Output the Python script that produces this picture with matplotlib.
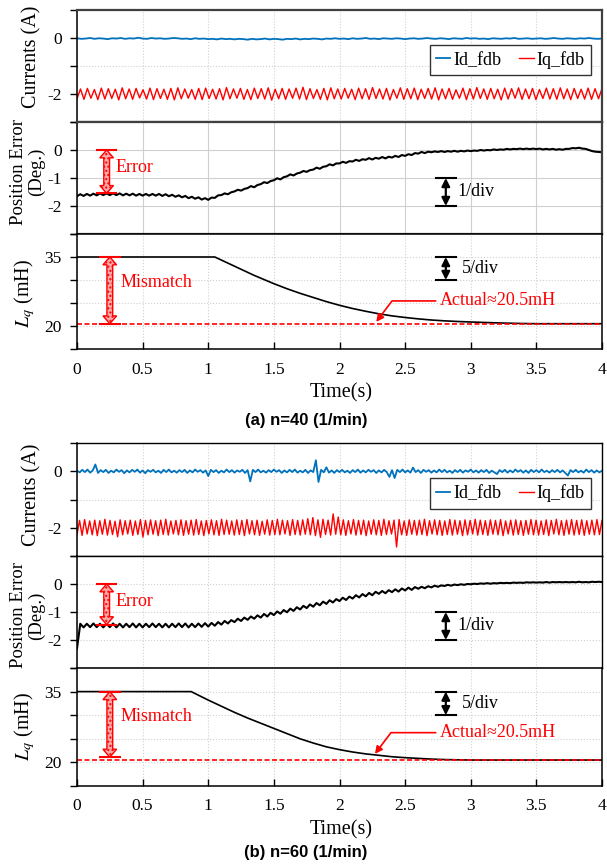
import numpy as np
import matplotlib.pyplot as plt
import matplotlib.patches as mpatches

plt.rcParams['font.family'] = ['Liberation Serif', 'DejaVu Serif']
plt.rcParams['mathtext.fontset'] = 'stix'

# ***** Data ***** #

time_ticks = [0, 0.5, 1, 1.5, 2, 2.5, 3, 3.5, 4]
time_labels = ['0', '0.5', '1', '1.5', '2', '2.5', '3', '3.5', '4']
lq_actual = 20.5

# (a) n=40 -- Iq ripple read as successive peaks / troughs
iq_a_peaks = [-1.82, -1.80, -1.84, -1.79, -1.81, -1.83, -1.78, -1.82, -1.80, -1.85,
              -1.79, -1.81, -1.83, -1.80, -1.78, -1.82, -1.84, -1.80, -1.79, -1.83,
              -1.81, -1.77, -1.82, -1.80, -1.84, -1.79, -1.81, -1.78, -1.83, -1.80,
              -1.82, -1.79, -1.76, -1.81, -1.84, -1.80, -1.78, -1.82, -1.80, -1.83,
              -1.79, -1.81, -1.77, -1.82, -1.80, -1.84, -1.78, -1.81, -1.79, -1.83,
              -1.80, -1.78, -1.82, -1.80, -1.85, -1.79, -1.81, -1.77, -1.82, -1.80,
              -1.83, -1.79, -1.81, -1.78, -1.82, -1.80, -1.84, -1.79, -1.81, -1.78,
              -1.82, -1.80, -1.83, -1.79, -1.81, -1.80]
iq_a_troughs = [-2.17, -2.19, -2.15, -2.20, -2.18, -2.16, -2.21, -2.17, -2.19, -2.14,
                -2.18, -2.20, -2.16, -2.19, -2.21, -2.17, -2.15, -2.19, -2.20, -2.16,
                -2.18, -2.21, -2.17, -2.15, -2.19, -2.20, -2.16, -2.18, -2.22, -2.17,
                -2.19, -2.15, -2.18, -2.20, -2.16, -2.19, -2.21, -2.17, -2.18, -2.15,
                -2.20, -2.17, -2.19, -2.16, -2.18, -2.21, -2.15, -2.19, -2.17, -2.20,
                -2.16, -2.18, -2.21, -2.17, -2.19, -2.15, -2.20, -2.18, -2.16, -2.19,
                -2.17, -2.21, -2.18, -2.15, -2.19, -2.17, -2.20, -2.16, -2.18, -2.19,
                -2.17, -2.20, -2.16, -2.18, -2.19, -2.17]
id_a = [-0.01, -0.03, -0.02, 0.00, -0.03, -0.01, -0.02, -0.04, -0.01, -0.02, 0.00, -0.03,
        -0.01, -0.02, 0.01, -0.02, -0.03, 0.00, -0.02, -0.01, -0.03, -0.02, 0.00, -0.01,
        -0.03, -0.02, -0.04, -0.01, -0.03, -0.02, -0.04, -0.03, -0.05, -0.02, -0.04, -0.03,
        -0.05, -0.03, -0.04, -0.06, -0.03, -0.05, -0.04, -0.02, -0.05, -0.03, -0.04, -0.06,
        -0.03, -0.04, -0.02, -0.05, -0.03, -0.04, -0.02, -0.03, -0.05, -0.02, -0.03, -0.01,
        -0.03, -0.02, -0.04, -0.01, -0.03, -0.02, 0.00, -0.03, -0.02, -0.04, -0.01, -0.02,
        -0.03, -0.01, -0.02, -0.04, -0.02, -0.01, -0.03, -0.02, 0.00, -0.02, -0.03, -0.01,
        -0.02, -0.04, -0.01, -0.02, -0.03, 0.00, -0.02, -0.01, -0.03, -0.02, -0.04, -0.01,
        -0.02, -0.03, -0.01, -0.02, 0.00, -0.03, -0.02, -0.01, -0.03, -0.02, -0.01, -0.03,
        -0.02, 0.00, -0.02, -0.03, -0.01, -0.02, -0.03, -0.01, -0.02, 0.00, -0.02, -0.03,
        -0.02]
pe_a = [-1.65, -1.58, -1.64, -1.57, -1.63, -1.56, -1.62, -1.55, -1.61, -1.55, -1.61, -1.55,
        -1.61, -1.55, -1.62, -1.56, -1.62, -1.56, -1.63, -1.57, -1.63, -1.57, -1.63, -1.57,
        -1.63, -1.57, -1.64, -1.58, -1.65, -1.60, -1.67, -1.62, -1.69, -1.64, -1.72, -1.67,
        -1.74, -1.69, -1.77, -1.72, -1.78, -1.70, -1.71, -1.62, -1.61, -1.55, -1.58, -1.51,
        -1.48, -1.42, -1.45, -1.39, -1.36, -1.29, -1.33, -1.25, -1.22, -1.15, -1.18, -1.11,
        -1.08, -1.01, -1.05, -0.97, -0.94, -0.87, -0.91, -0.84, -0.81, -0.75, -0.78, -0.72,
        -0.70, -0.63, -0.67, -0.60, -0.58, -0.51, -0.55, -0.48, -0.48, -0.42, -0.46, -0.40,
        -0.41, -0.35, -0.39, -0.33, -0.35, -0.29, -0.34, -0.28, -0.31, -0.25, -0.30, -0.24,
        -0.27, -0.21, -0.25, -0.18, -0.21, -0.15, -0.18, -0.11, -0.13, -0.07, -0.11, -0.06,
        -0.08, -0.05, -0.07, -0.04, -0.07, -0.04, -0.06, -0.03, -0.06, -0.03, -0.05, -0.02,
        -0.04, -0.02, -0.03, 0.00, -0.02, 0.00, -0.01, 0.02, 0.00, 0.02, 0.01, 0.04,
        0.02, 0.04, 0.03, 0.05, 0.03, 0.05, 0.03, 0.05, 0.03, 0.05, 0.02, 0.04,
        0.02, 0.04, 0.01, 0.03, 0.01, 0.04, 0.04, 0.07, 0.06, 0.08, 0.05, 0.04,
        0.00, -0.04, -0.06, -0.07, -0.08]
lq_a_t = [0, 1.05, 1.2, 1.35, 1.5, 1.6, 1.7, 1.8, 1.9, 2.0, 2.1, 2.2, 2.3, 2.4, 2.5,
          2.6, 2.7, 2.8, 2.9, 3.0, 3.1, 3.2, 3.3, 3.4, 3.5, 4.0]
lq_a = [35, 35, 33.0, 31.0, 29.2, 28.1, 27.1, 26.2, 25.3, 24.5, 23.8, 23.2, 22.65, 22.2,
        21.85, 21.55, 21.3, 21.12, 20.98, 20.87, 20.77, 20.68, 20.6, 20.54, 20.5, 20.5]

# (b) n=60
iq_b_peaks = [-1.74, -1.71, -1.76, -1.73, -1.75, -1.70, -1.74, -1.77, -1.72, -1.75,
              -1.73, -1.76, -1.71, -1.74, -1.72, -1.75, -1.73, -1.70, -1.76, -1.74,
              -1.72, -1.75, -1.73, -1.71, -1.76, -1.74, -1.72, -1.75, -1.70, -1.73,
              -1.76, -1.72, -1.74, -1.71, -1.75, -1.73, -1.77, -1.72, -1.74, -1.70,
              -1.73, -1.75, -1.71, -1.74, -1.72, -1.68, -1.64, -1.72, -1.70, -1.73,
              -1.51, -1.62, -1.72, -1.75, -1.71, -1.74, -1.73, -1.76, -1.72, -1.74,
              -1.70, -1.75, -1.73, -1.71, -1.76, -1.72, -1.74, -1.73, -1.70, -1.75,
              -1.72, -1.74, -1.76, -1.71, -1.73, -1.75, -1.72, -1.74, -1.70, -1.73,
              -1.75, -1.72, -1.74, -1.71, -1.76, -1.73, -1.72, -1.75, -1.74, -1.71,
              -1.73, -1.76, -1.72, -1.74, -1.70, -1.75, -1.73, -1.71, -1.74, -1.72,
              -1.75, -1.73, -1.71, -1.74]
iq_b_troughs = [-2.24, -2.27, -2.22, -2.25, -2.28, -2.23, -2.26, -2.24, -2.32, -2.25,
                -2.22, -2.27, -2.24, -2.33, -2.25, -2.23, -2.28, -2.24, -2.26, -2.22,
                -2.25, -2.27, -2.23, -2.26, -2.24, -2.28, -2.22, -2.25, -2.27, -2.24,
                -2.23, -2.26, -2.24, -2.28, -2.22, -2.25, -2.27, -2.23, -2.26, -2.24,
                -2.25, -2.22, -2.27, -2.24, -2.26, -2.23, -2.25, -2.28, -2.34, -2.24,
                -2.26, -2.23, -2.25, -2.27, -2.22, -2.26, -2.24, -2.28, -2.23, -2.25,
                -2.27, -2.24, -2.22, -2.68, -2.25, -2.27, -2.23, -2.26, -2.24, -2.28,
                -2.22, -2.25, -2.27, -2.24, -2.26, -2.23, -2.28, -2.25, -2.22, -2.26,
                -2.24, -2.27, -2.23, -2.25, -2.28, -2.22, -2.26, -2.24, -2.27, -2.23,
                -2.25, -2.26, -2.24, -2.28, -2.22, -2.25, -2.27, -2.23, -2.26, -2.24,
                -2.27, -2.23, -2.25, -2.24]
id_b = [0.02, -0.04, 0.05, -0.03, 0.06, -0.05, 0.03, 0.24, -0.06, 0.04, -0.03, 0.05, -0.06, 0.02, -0.04, 0.06, -0.02, 0.04, -0.07, 0.03,
        -0.04, 0.05, -0.02, 0.06, -0.05, 0.03, -0.07, 0.04, -0.02, 0.05, -0.04, 0.02, -0.06, 0.05, -0.03, 0.06, -0.04, 0.02, -0.05, 0.04,
        -0.03, 0.05, -0.06, 0.03, -0.04, 0.06, -0.02, 0.04, -0.05, 0.03, -0.17, 0.05, -0.03, 0.04, -0.06, 0.02, -0.04, 0.06, -0.03, 0.04,
        -0.05, 0.03, -0.02, 0.05, -0.06, 0.04, -0.36, 0.05, -0.03, 0.06, -0.04, 0.02, -0.05, 0.04, -0.03, 0.06, -0.02, 0.04, -0.06, 0.03,
        -0.04, 0.05, -0.03, 0.06, -0.05, 0.02, -0.04, 0.05, -0.06, 0.03, -0.03, 0.39, -0.38, 0.05, -0.04, 0.14, -0.05, 0.03, -0.06, 0.04,
        -0.03, 0.05, -0.04, 0.02, -0.06, 0.04, -0.03, 0.06, -0.05, 0.03, -0.04, 0.05, -0.02, 0.04, -0.06, 0.03, -0.04, 0.05, -0.03, -0.20,
        0.04, -0.24, 0.05, -0.03, 0.06, -0.04, 0.03, -0.05, 0.13, -0.03, 0.04, -0.06, 0.05, -0.02, 0.04, -0.05, 0.03, -0.04, 0.06, -0.03,
        0.05, -0.04, 0.02, -0.06, 0.04, -0.03, 0.05, -0.05, 0.03, -0.02, 0.06, -0.04, 0.03, -0.05, 0.04, -0.03, 0.05, -0.06, 0.02, -0.04,
        -0.10, 0.04, -0.03, 0.05, -0.05, 0.03, -0.04, 0.06, -0.02, 0.04, -0.05, 0.03, -0.06, 0.05, -0.03, 0.04, -0.04, 0.06, -0.03, 0.02,
        -0.05, 0.04, -0.03, 0.05, -0.04, 0.03, -0.06, -0.15, 0.04, -0.03, 0.05, -0.04, 0.02, -0.05, 0.06, -0.03, 0.04, -0.05, 0.03, -0.04,
        0.02]
pe_b = [-2.30, -1.42, -1.55, -1.42, -1.54, -1.41, -1.54, -1.42, -1.55, -1.42, -1.54, -1.41,
        -1.55, -1.42, -1.55, -1.42, -1.54, -1.41, -1.55, -1.42, -1.55, -1.42, -1.54, -1.41,
        -1.54, -1.42, -1.55, -1.42, -1.55, -1.42, -1.54, -1.41, -1.54, -1.41, -1.55, -1.42,
        -1.54, -1.41, -1.53, -1.40, -1.52, -1.39, -1.49, -1.36, -1.45, -1.32, -1.41, -1.29,
        -1.36, -1.24, -1.32, -1.20, -1.28, -1.16, -1.24, -1.12, -1.20, -1.07, -1.16, -1.03,
        -1.11, -0.98, -1.06, -0.93, -1.01, -0.88, -0.96, -0.83, -0.91, -0.78, -0.86, -0.73,
        -0.81, -0.68, -0.76, -0.63, -0.71, -0.58, -0.66, -0.54, -0.61, -0.49, -0.57, -0.45,
        -0.52, -0.40, -0.48, -0.36, -0.44, -0.32, -0.40, -0.28, -0.35, -0.25, -0.33, -0.22,
        -0.29, -0.19, -0.27, -0.16, -0.23, -0.13, -0.21, -0.11, -0.17, -0.10, -0.15, -0.08,
        -0.12, -0.06, -0.10, -0.05, -0.07, -0.03, -0.06, -0.02, -0.04, -0.01, -0.03, 0.00,
        -0.01, 0.01, 0.00, 0.02, 0.01, 0.03, 0.01, 0.03, 0.02, 0.04, 0.03, 0.04,
        0.03, 0.05, 0.04, 0.05, 0.04, 0.06, 0.05, 0.06, 0.05, 0.06, 0.05, 0.07,
        0.05, 0.07, 0.06, 0.07, 0.06, 0.07, 0.06, 0.07, 0.06, 0.08, 0.06, 0.07,
        0.06, 0.08, 0.07, 0.08, 0.07]
lq_b_t = [0, 0.87, 1.0, 1.1, 1.2, 1.3, 1.4, 1.5, 1.6, 1.7, 1.8, 1.9, 2.0, 2.1, 2.2,
          2.3, 2.4, 2.5, 2.6, 2.7, 2.8, 2.9, 3.0, 4.0]
lq_b = [35, 35, 33.2, 31.9, 30.6, 29.4, 28.3, 27.2, 26.1, 25.0, 24.1, 23.3, 22.7, 22.2,
        21.8, 21.5, 21.2, 21.0, 20.85, 20.7, 20.6, 20.55, 20.5, 20.5]

# ***** Figure ***** #

W, H = 607, 865
fig = plt.figure(figsize=(W / 100, H / 100), dpi=100)
RED = '#ff0000'
BLUE = '#0072bd'


def add_ax(top, bottom):
    return fig.add_axes([77 / W, 1 - bottom / H, 525 / W, (bottom - top) / H])


def style(ax, ylim, yticks, ylabels, edge, lw, grid_ls, bottom=False):
    ax.set_xlim(0, 4)
    ax.set_ylim(*ylim)
    ax.set_yticks(yticks)
    ax.set_yticklabels(ylabels)
    ax.set_xticks(time_ticks)
    ax.grid(True, color='#d0d0d0', lw=0.8, ls=grid_ls)
    ax.set_axisbelow(True)
    for s in ax.spines.values():
        s.set_color(edge)
        s.set_linewidth(lw)
    ax.spines['left'].set_color('black')
    ax.spines['left'].set_linewidth(1.1)
    ax.tick_params(axis='y', direction='out', length=5, width=1, pad=6, labelsize=12.5)
    if bottom:
        ax.set_xticklabels(time_labels)
        ax.tick_params(axis='x', direction='in', length=5, width=1, pad=9, labelsize=12.5)
    else:
        ax.tick_params(axis='x', length=0, labelbottom=False)


def fat_arrow(ax, x, ytop, ybot, half_w, head_hw, head_len, bar_hw):
    xs = [x, x + head_hw, x + half_w, x + half_w, x + head_hw,
          x, x - head_hw, x - half_w, x - half_w, x - head_hw]
    ys = [ytop, ytop - head_len, ytop - head_len, ybot + head_len, ybot + head_len,
          ybot, ybot + head_len, ybot + head_len, ytop - head_len, ytop - head_len]
    ax.add_patch(mpatches.Polygon(np.column_stack([xs, ys]), closed=True,
                                  fc='#ffa8a8', ec=RED, lw=1, hatch='....', zorder=4))
    ax.plot([x - bar_hw, x + bar_hw], [ytop, ytop], color=RED, lw=1.5, zorder=4)
    ax.plot([x - bar_hw, x + bar_hw], [ybot, ybot], color=RED, lw=1.5, zorder=4)


def div_arrow(ax, x, ytop, ybot, bar_hw, label, tx):
    ax.annotate('', xy=(x, ybot), xytext=(x, ytop),
                arrowprops=dict(arrowstyle='<|-|>', color='black', lw=1.6,
                                mutation_scale=12, shrinkA=0, shrinkB=0))
    ax.plot([x - bar_hw, x + bar_hw], [ytop, ytop], color='black', lw=1.5)
    ax.plot([x - bar_hw, x + bar_hw], [ybot, ybot], color='black', lw=1.5)
    ax.text(tx, (ytop + ybot) / 2, label, fontsize=13, va='center', ha='left')


def draw_group(rows, id_v, iq_p, iq_t, pe_v, lq_t, lq_v, edge, lw, pe_grid,
               err_bot, mis_bot, err_ty, mis_ty, act_xy, act_txt, lab_y,
               xlab_y, title_y, title):
    ax1 = add_ax(*rows[0])
    ax2 = add_ax(*rows[1])
    ax3 = add_ax(*rows[2])

    # currents
    iq_v = np.column_stack([iq_t, iq_p]).ravel()
    ax1.plot(np.linspace(0, 4, len(id_v)), id_v, color=BLUE, lw=1.3, label='Id_fdb')
    ax1.plot(np.linspace(0, 4, len(iq_v)), iq_v, color=RED, lw=1.0, label='Iq_fdb')
    style(ax1, (-3, 1), [-3, -2, -1, 0, 1], ['', '-2', '', '0', ''], edge, lw, ':')
    leg = ax1.legend(loc='center', bbox_to_anchor=(0.825, 0.555), ncol=2, fontsize=13,
                     handlelength=0.8, handletextpad=0.15, columnspacing=1.0,
                     borderpad=0.35, borderaxespad=0.2, fancybox=False, framealpha=1)
    leg.get_frame().set_edgecolor('#333333')
    leg.get_frame().set_linewidth(1.0)
    ax1.text(-0.086, lab_y[0], 'Currents (A)', transform=ax1.transAxes, rotation=90,
             ha='center', va='center', fontsize=14.5)

    # position error
    ax2.plot(np.linspace(0, 4, len(pe_v)), pe_v, color='black', lw=1.5)
    style(ax2, (-3, 1), [-3, -2, -1, 0, 1], ['', '-2', '-1', '0', ''], edge, lw, pe_grid)
    fat_arrow(ax2, 0.226, 0, err_bot, 0.022, 0.052, 0.28, 0.07)
    ax2.text(0.29, err_ty, 'Error', color=RED, fontsize=13, va='center')
    div_arrow(ax2, 2.81, -1, -2, 0.076, '1/div', 2.9)
    ax2.text(-0.094, lab_y[1], 'Position Error\n(Deg.)', transform=ax2.transAxes,
             rotation=90, ha='center', va='center', multialignment='center',
             fontsize=13.5, linespacing=1.05)

    # Lq
    ax3.plot(lq_t, lq_v, color='black', lw=1.2)
    ax3.axhline(lq_actual, color=RED, lw=1.2, ls=(0, (3, 1.5)))
    style(ax3, (15, 40), [15, 20, 25, 30, 35, 40], ['', '20', '', '', '35', ''],
          'black', 1.1, ':', bottom=True)
    fat_arrow(ax3, 0.25, 35, mis_bot, 0.022, 0.052, 1.7, 0.075)
    ax3.text(0.33, mis_ty, 'Mismatch', color=RED, fontsize=13, va='center')
    div_arrow(ax3, 2.81, 35, 30, 0.076, '5/div', 2.93)
    ax3.annotate('Actual\u224820.5mH', xy=act_xy, xytext=act_txt, color=RED,
                 fontsize=13, va='center', ha='left',
                 arrowprops=dict(arrowstyle='-|>', color=RED, lw=1.2, mutation_scale=11,
                                 connectionstyle='angle,angleA=0,angleB=53,rad=0',
                                 shrinkA=1, shrinkB=0))
    ax3.text(-0.099, lab_y[2], r'$L_q$ (mH)', transform=ax3.transAxes, rotation=90,
             ha='center', va='center', fontsize=14.5)

    fig.text(341 / W, 1 - xlab_y / H, 'Time(s)', ha='center', va='center', fontsize=14.5)
    fig.text(306 / W, 1 - title_y / H, title, ha='center', va='center', fontsize=12,
             fontweight='bold', family=['Liberation Sans', 'DejaVu Sans'])


draw_group([(10, 122), (122, 234), (234, 349)], id_a, iq_a_peaks, iq_a_troughs, pe_a,
           lq_a_t, lq_a, '#404040', 1.6, '-', -1.55, 20.5, -0.62, 29.4,
           (2.28, 20.9), (2.765, 25.45), (0.58, 0.556, 0.48), 393, 420,
           '(a) n=40 (1/min)')
draw_group([(443, 556), (556, 668), (668, 786)], id_b, iq_b_peaks, iq_b_troughs, pe_b,
           lq_b_t, lq_b, 'black', 1.0, ':', -1.45, 21.1, -0.64, 29.7,
           (2.27, 21.8), (2.765, 26.3), (0.54, 0.47, 0.50), 830, 853,
           '(b) n=60 (1/min)')

fig.savefig('out.png', dpi=100)
